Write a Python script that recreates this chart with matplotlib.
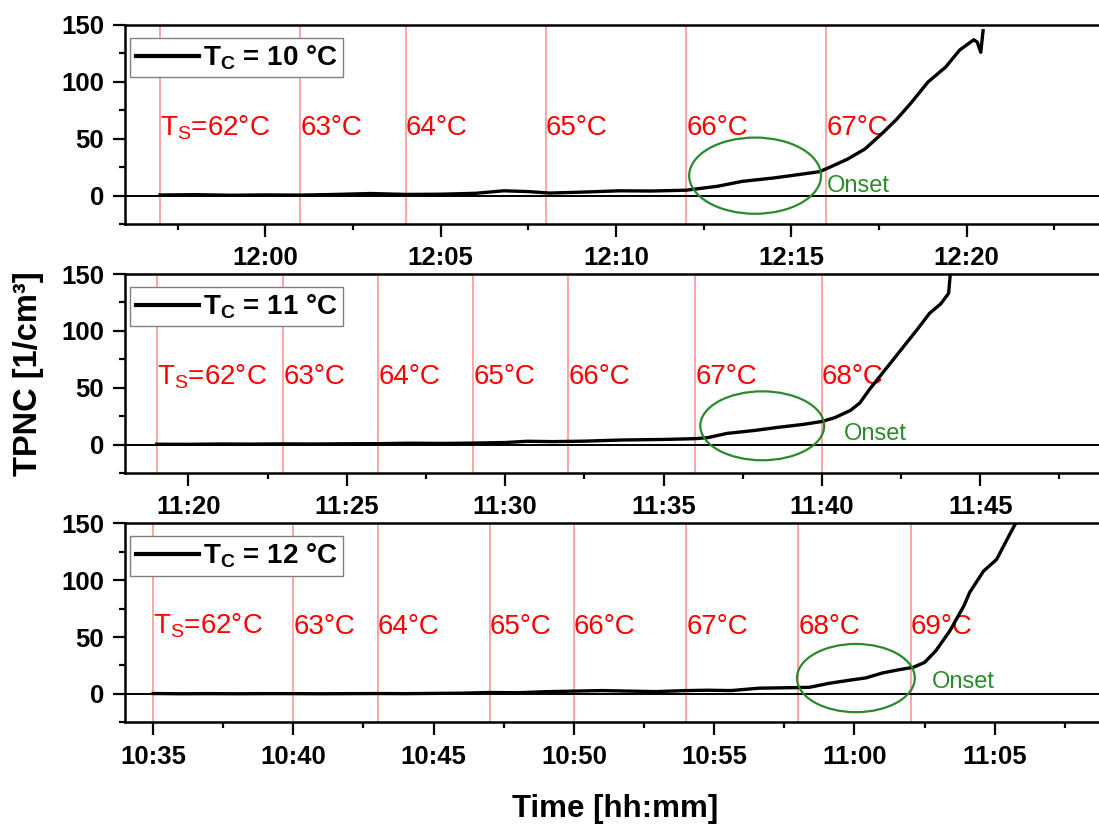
import matplotlib
matplotlib.use("Agg")
import matplotlib.pyplot as plt
from matplotlib.patches import Ellipse
from matplotlib.ticker import MultipleLocator, FuncFormatter

plt.rcParams['font.family'] = ['Liberation Sans', 'DejaVu Sans']
plt.rcParams['font.weight'] = 'bold'
plt.rcParams['mathtext.fontset'] = 'custom'
plt.rcParams['mathtext.rm'] = 'Liberation Sans:weight=normal'
plt.rcParams['mathtext.bf'] = 'Liberation Sans:weight=bold'
plt.rcParams['mathtext.it'] = 'Liberation Sans:italic'

# cooler temperature of each run (one panel per run)
tc_values = [10, 11, 12]

# saturator temperature steps: time of each step and its temperature
step_times_10 = ["11:57", "12:01", "12:04", "12:08", "12:12", "12:16"]
step_temps_10 = [62, 63, 64, 65, 66, 67]
step_times_11 = ["11:19", "11:23", "11:26", "11:29", "11:32", "11:36", "11:40"]
step_temps_11 = [62, 63, 64, 65, 66, 67, 68]
step_times_12 = ["10:35", "10:40", "10:43", "10:47", "10:50", "10:54", "10:58", "11:02"]
step_temps_12 = [62, 63, 64, 65, 66, 67, 68, 69]

# TPNC readings [1/cm3]
time_10 = ["11:57:00", "11:58:00", "11:59:00", "12:00:00", "12:01:00", "12:02:00",
           "12:03:00", "12:04:00", "12:05:00", "12:06:00", "12:06:48", "12:07:30",
           "12:08:06", "12:09:00", "12:10:06", "12:11:00", "12:12:00", "12:12:54",
           "12:13:36", "12:14:30", "12:15:06", "12:15:48", "12:16:06", "12:16:36",
           "12:17:06", "12:17:36", "12:18:00", "12:18:24", "12:18:54", "12:19:24",
           "12:19:48", "12:20:12", "12:20:18", "12:20:24", "12:20:28"]
tpnc_10 = [0.5, 0.8, 0.3, 0.6, 0.4, 1.0, 1.8, 1.0, 1.2, 2.0, 4.2, 3.5,
           2.2, 3.0, 4.2, 4.0, 4.7, 8.2, 12.5, 15.5, 18.0, 21.0, 25.0, 32.0,
           41.0, 55.0, 67.0, 81.0, 100.0, 113.0, 128.0, 137.0, 135.0, 126.0, 145.0]

time_11 = ["11:19:00", "11:20:00", "11:21:00", "11:22:00", "11:23:00", "11:24:00",
           "11:25:00", "11:26:00", "11:27:00", "11:28:00", "11:29:00", "11:30:00",
           "11:30:42", "11:31:30", "11:32:30", "11:33:40", "11:35:00", "11:36:00",
           "11:36:24", "11:37:00", "11:37:54", "11:38:36", "11:39:24", "11:40:00",
           "11:40:24", "11:40:54", "11:41:12", "11:41:30", "11:42:00", "11:42:30",
           "11:43:00", "11:43:24", "11:43:45", "11:44:00", "11:44:03", "11:44:06"]
tpnc_11 = [0.3, 0.2, 0.5, 0.4, 0.6, 0.5, 0.7, 0.8, 1.2, 1.0, 1.3, 1.8,
           2.9, 2.6, 3.0, 4.0, 4.5, 5.2, 6.1, 9.8, 12.5, 15.1, 17.7, 20.3,
           23.6, 30.0, 36.7, 48.4, 65.9, 83.4, 100.9, 115.5, 123.7, 133.0, 149.0, 165.0]

time_12 = ["10:35:00", "10:36:00", "10:37:00", "10:38:00", "10:39:00", "10:40:00",
           "10:41:00", "10:42:00", "10:43:00", "10:44:00", "10:45:00", "10:46:00",
           "10:47:00", "10:48:00", "10:49:06", "10:51:00", "10:52:54", "10:54:00",
           "10:54:45", "10:55:36", "10:56:36", "10:57:54", "10:58:24", "10:59:06",
           "10:59:54", "11:00:24", "11:01:00", "11:01:36", "11:02:06", "11:02:30",
           "11:02:54", "11:03:24", "11:03:54", "11:04:06", "11:04:36", "11:05:04",
           "11:05:15", "11:05:30", "11:05:45", "11:06:00"]
tpnc_12 = [0.3, 0.1, 0.2, 0.1, 0.2, 0.2, 0.1, 0.2, 0.3, 0.2, 0.4, 0.6,
           1.2, 1.0, 2.0, 2.9, 2.0, 2.9, 3.2, 2.9, 5.0, 5.5, 5.8, 9.3,
           12.3, 14.0, 18.4, 21.3, 23.4, 27.7, 37.9, 55.5, 77.4, 89.0, 108.0, 118.2,
           127.0, 138.7, 150.3, 160.0]


def to_min(s):
    parts = [int(p) for p in s.split(":")]
    sec = parts[2] if len(parts) > 2 else 0
    return parts[0] * 60 + parts[1] + sec / 60


def hhmm(v, pos):
    m = int(round(v))
    return f"{m // 60}:{m % 60:02d}"


panels = [
    dict(tc=tc_values[0], t=time_10, y=tpnc_10, st=step_times_10, sT=step_temps_10,
         xlim=("11:56", "12:24"), ell=("12:13:58", 17.5, 3.76, 67), onset=("12:16:00", 3)),
    dict(tc=tc_values[1], t=time_11, y=tpnc_11, st=step_times_11, sT=step_temps_11,
         xlim=("11:18", "11:49"), ell=("11:38:07", 16.5, 3.91, 60.6), onset=("11:40:42", 4)),
    dict(tc=tc_values[2], t=time_12, y=tpnc_12, st=step_times_12, sT=step_temps_12,
         xlim=("10:34", "11:09"), ell=("11:00:03", 13.9, 4.2, 60), onset=("11:02:45", 5)),
]

W, H = 1099, 827
fig = plt.figure(figsize=(W / 100, H / 100), dpi=100)
green = '#2a8a2a'
tops = [25, 274, 523.3]
ax_h = 199
left, right = 125, 1107

for top, p in zip(tops, panels):
    ax = fig.add_axes([left / W, 1 - (top + ax_h) / H, (right - left) / W, ax_h / H])
    tt = [to_min(s) for s in p['t']]
    line, = ax.plot(tt, p['y'], color='black', lw=2.4, zorder=3)
    ax.axhline(0, color='black', lw=1.4, zorder=2)

    for i, (st, temp) in enumerate(zip(p['st'], p['sT'])):
        x = to_min(st)
        ax.axvline(x, color='#ff6f6f', lw=1.1, alpha=0.8, zorder=1)
        lab = "T$_\\mathrm{S}$=%d°C" % temp if i == 0 else f"{temp}°C"
        ax.text(x, 53, lab, color='red', fontsize=20, fontweight='normal',
                ha='left', va='baseline', zorder=1)

    ec, ey, ew, eh = p['ell']
    ax.add_patch(Ellipse((to_min(ec), ey), ew, eh, fill=False, edgecolor=green,
                         lw=1.6, zorder=4))
    ox, oy = p['onset']
    ax.text(to_min(ox), oy, "Onset", color=green, fontsize=17, fontweight='normal',
            ha='left', va='baseline')

    ax.set_xlim(to_min(p['xlim'][0]), to_min(p['xlim'][1]))
    ax.set_ylim(-25, 150)
    ax.xaxis.set_major_locator(MultipleLocator(5))
    ax.xaxis.set_minor_locator(MultipleLocator(2.5))
    ax.xaxis.set_major_formatter(FuncFormatter(hhmm))
    ax.yaxis.set_major_locator(MultipleLocator(50))
    ax.yaxis.set_minor_locator(MultipleLocator(25))
    ax.tick_params(which='major', direction='out', length=9, width=1.6, labelsize=18.5)
    ax.tick_params(which='minor', direction='out', length=4, width=1.6)
    ax.tick_params(axis='x', pad=7)
    ax.tick_params(axis='y', pad=6)
    ax.spines['right'].set_visible(False)
    for s in ['left', 'top', 'bottom']:
        ax.spines[s].set_linewidth(1.8)

    leg = ax.legend([line], ["T$_\\mathbf{C}$ = %d °C" % p['tc']], loc='upper left',
                    bbox_to_anchor=(5 / (right - left), 1 - 12.7 / ax_h), borderaxespad=0,
                    fancybox=False, edgecolor='#808080', framealpha=1,
                    prop={'size': 20, 'weight': 'bold'}, handlelength=2.3,
                    handletextpad=0.12, borderpad=0.2)
    leg.get_frame().set_linewidth(1.0)
    leg.get_lines()[0].set_linewidth(3.0)

fig.text(29 / W, 1 - 374 / H, "TPNC [1/cm³]", rotation=90, fontsize=23.5,
         fontweight='bold', ha='center', va='center')
fig.text(615 / W, 1 - 809 / H, "Time [hh:mm]", fontsize=22.5,
         fontweight='bold', ha='center', va='center')

fig.savefig("out.png", dpi=100)
